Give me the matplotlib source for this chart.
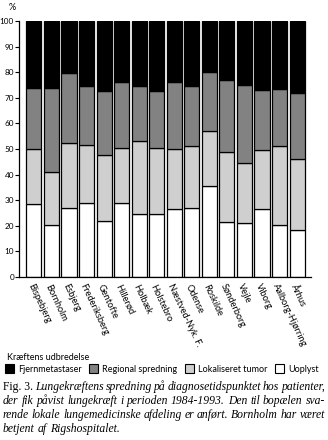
import numpy as np
import matplotlib.pyplot as plt
from matplotlib.patches import Patch

# Afdelinger (lokal lungemedicinsk afdeling)
hospitals = ["Bispebjerg", "Bornholm", "Esbjerg", "Frederiksberg", "Gentofte",
             "Hillerød", "Holbæk", "Holstebro", "Næstved-Nyk. F.", "Odense",
             "Roskilde", "Sønderborg", "Vejle", "Viborg", "Aalborg-Hjørring", "Århus"]

# Procent pr. kategori (nedefra og op)
uoplyst = [28.5, 20.5, 27, 29, 22, 29, 24.5, 24.5, 26.5, 27, 35.5, 21.5, 21, 26.5, 20.5, 18.5]
lokaliseret = [21.5, 20.5, 25.5, 22.5, 25.5, 21.5, 28.5, 26, 23.5, 24, 21.5, 27.5, 23.5, 23, 30.5, 27.5]
regional = [24, 33, 27, 23, 25, 25.5, 21.5, 22, 26, 23.5, 23, 28, 30.5, 23.5, 22.5, 26]
fjern = [26, 26, 20.5, 25.5, 27.5, 24, 25.5, 27.5, 24, 25.5, 20, 23, 25, 27, 26.5, 28]

series = [("Fjernmetastaser", fjern, "#000000"),
          ("Regional spredning", regional, "#828282"),
          ("Lokaliseret tumor", lokaliseret, "#cfcfcf"),
          ("Uoplyst", uoplyst, "#ffffff")]

sans = "Lato"
serif = "Liberation Serif"

fig = plt.figure(figsize=(3.28, 4.4), dpi=100)
ax = fig.add_axes([19/328, 1 - 277/440, 292/328, 256/440])

x = np.arange(len(hospitals))
bottom = np.zeros(len(hospitals))
# tegn nedefra: uoplyst, lokaliseret, regional, fjern
for name, vals, col in series[::-1]:
    ax.bar(x, vals, bottom=bottom, width=0.86, color=col,
           edgecolor="black", linewidth=0.9)
    bottom += np.array(vals)

ax.set_xlim(-0.85, 15.79)
ax.set_ylim(0, 100)
ax.set_yticks(np.arange(0, 101, 10))
ax.tick_params(axis="y", direction="out", length=3, width=0.8, pad=0.6,
               labelsize=5.9)
for lab in ax.get_yticklabels():
    lab.set_fontfamily(sans)
ax.set_xticks(x)
ax.set_xticklabels(hospitals, rotation=-65, ha="left", va="top",
                   rotation_mode="anchor", fontsize=6.7, fontfamily=sans)
ax.tick_params(axis="x", length=0, pad=4)
for s in ["top", "right"]:
    ax.spines[s].set_visible(False)
ax.spines["left"].set_linewidth(0.9)
ax.spines["bottom"].set_linewidth(0.9)

fig.text(12/328, 1 - 8/440, "%", fontsize=6.5, fontfamily=sans,
         ha="center", va="center")

# Forklaring
fig.text(7/328, 1 - 357/440, "Kræftens udbredelse", fontsize=6.5,
         fontfamily=sans, ha="left", va="center")
leg_handles = [Patch(facecolor=c, edgecolor="black", linewidth=0.8) for _, _, c in series]
leg = fig.legend(leg_handles, [n for n, _, _ in series], ncol=4, frameon=False,
                 loc="center left", bbox_to_anchor=(5/328, 1 - 369/440),
                 handlelength=1.0, handleheight=1.0, handletextpad=0.45,
                 columnspacing=0.85, borderpad=0.0, borderaxespad=0,
                 prop={"family": sans, "size": 6.5})

# Figurtekst (lige margener)
caption = [
    [("Fig. 3.", "normal"), ("Lungekræftens", "italic"), ("spredning", "italic"),
     ("på", "italic"), ("diagnosetidspunktet", "italic"), ("hos", "italic"),
     ("patienter,", "italic")],
    [(w, "italic") for w in "der fik påvist lungekræft i perioden 1984-1993. Den til bopælen sva-".split()],
    [(w, "italic") for w in "rende lokale lungemedicinske afdeling er anført. Bornholm har været".split()],
    [(w, "italic") for w in "betjent af Rigshospitalet.".split()],
]
x0, x1 = 3, 325
line_y = [387, 401, 415, 429]
renderer = fig.canvas.get_renderer()
for li, (words, yy) in enumerate(zip(caption, line_y)):
    texts = []
    for w, st in words:
        t = fig.text(0, 1 - yy/440, w, fontsize=8.4, fontfamily=serif, style=st,
                     ha="left", va="center")
        texts.append(t)
    widths = [t.get_window_extent(renderer).width for t in texts]
    if li < len(caption) - 1:
        gap = (x1 - x0 - sum(widths)) / (len(texts) - 1)
    else:
        gap = 3.0
    pos = x0
    for t, w in zip(texts, widths):
        t.set_x(pos / 328)
        pos += w + gap

fig.savefig("out.png", dpi=100)
